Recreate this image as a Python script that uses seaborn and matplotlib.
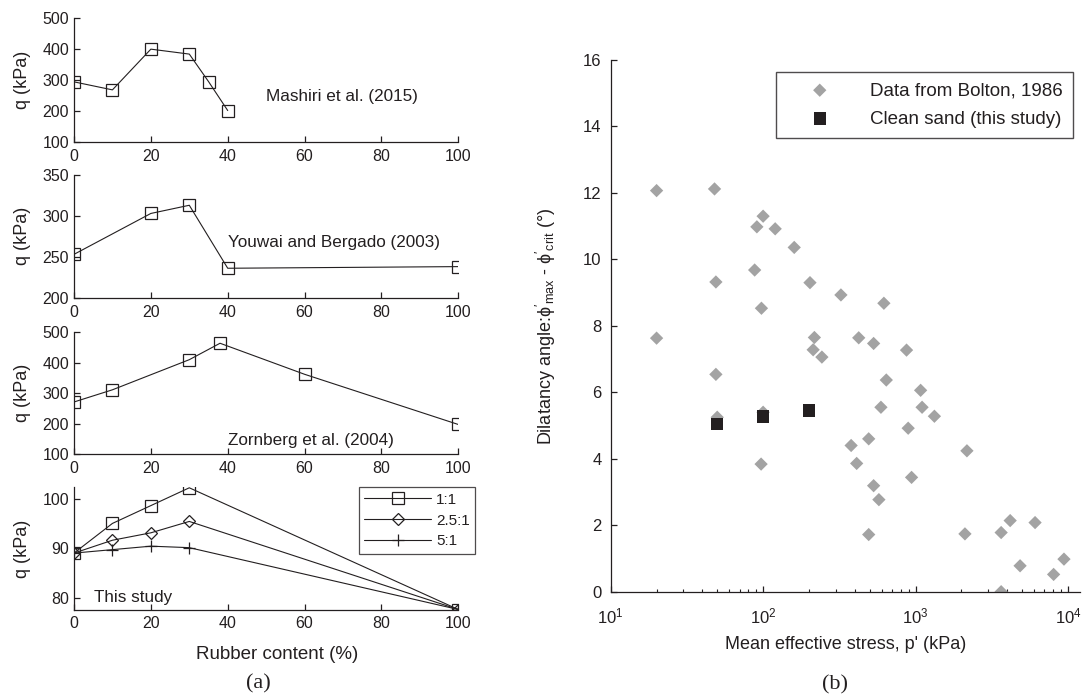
import numpy as np
import pandas as pd
import matplotlib
matplotlib.use("Agg")
import matplotlib.pyplot as plt
import seaborn as sns
from matplotlib.ticker import LogLocator, LogFormatterSciNotation, NullFormatter

# ---- (a) peak deviator stress vs rubber content ----
mashiri_x = [0, 10, 20, 30, 35, 40]
mashiri_q = [294, 268, 400, 384, 295, 201]

youwai_x = [0, 20, 30, 40, 100]
youwai_q = [253, 303, 313, 236, 238]

zornberg_x = [0, 10, 30, 38, 60, 100]
zornberg_q = [271, 311, 410, 464, 362, 197]

study_x = [0, 10, 20, 30, 100]
study_q_1_1 = [89.0, 95.0, 98.6, 102.2, 77.6]
study_q_25_1 = [89.0, 91.6, 93.1, 95.4, 77.6]
study_q_5_1 = [89.0, 89.7, 90.4, 90.1, 77.6]
study_ratios = ["1:1", "2.5:1", "5:1"]

# ---- (b) dilatancy angle vs mean effective stress ----
bolton_p = [20, 20, 48, 49, 49, 50, 100, 91, 120, 160, 88, 203, 324, 620,
            97.5, 97, 100, 217, 213, 243, 424, 531, 873, 643, 1080, 593,
            1104, 1330, 895, 493, 378, 411, 942, 531, 575, 2174, 493, 2110,
            3646, 4178, 6086, 4853, 9419, 8055, 3646]
bolton_psi = [12.07, 7.63, 12.12, 9.32, 6.54, 5.25, 11.30, 10.98, 10.92,
              10.36, 9.68, 9.30, 8.93, 8.68, 8.53, 3.84, 5.40, 7.65, 7.28,
              7.06, 7.64, 7.47, 7.27, 6.37, 6.06, 5.55, 5.55, 5.28, 4.92,
              4.60, 4.40, 3.86, 3.44, 3.19, 2.77, 4.24, 1.72, 1.74, 1.78,
              2.14, 2.08, 0.78, 0.98, 0.52, 0.0]
clean_p = [50, 100, 200]
clean_psi = [5.05, 5.27, 5.45]

sns.set_theme(style="ticks")
ink = "#231F20"
plt.rcParams.update({
    "font.family": ["Liberation Sans", "DejaVu Sans"],
    "text.color": ink,
    "axes.labelcolor": ink,
    "xtick.color": ink,
    "ytick.color": ink,
    "axes.edgecolor": ink,
    "axes.linewidth": 0.9,
    "xtick.direction": "in",
    "ytick.direction": "in",
    "xtick.major.size": 4,
    "ytick.major.size": 4,
    "xtick.minor.size": 2.5,
    "xtick.major.width": 0.9,
    "ytick.major.width": 0.9,
    "xtick.minor.width": 0.8,
    "mathtext.fontset": "custom",
    "mathtext.rm": "Liberation Sans",
    "mathtext.it": "Liberation Sans",
    "mathtext.default": "regular",
})

W, H = 1083, 695
fig = plt.figure(figsize=(W / 100, H / 100), dpi=100)


def px_axes(left, top, right, bottom):
    return fig.add_axes([left / W, 1 - bottom / H, (right - left) / W, (bottom - top) / H])


left_px, right_px = 74, 458.3
ax1 = px_axes(left_px, 18.3, right_px, 141.7)
ax2 = px_axes(left_px, 175, right_px, 297.7)
ax3 = px_axes(left_px, 332.3, right_px, 454)
ax4 = px_axes(left_px, 487.3, right_px, 609.5)
axb = px_axes(610.7, 60, 1080, 591.7)

line_kw = dict(color=ink, linewidth=0.8, markerfacecolor="none",
               markeredgecolor=ink, markeredgewidth=0.9)

tick_fs = 11.5
note_fs = 12.3

panels = [
    (ax1, mashiri_x, mashiri_q, (100, 500), [100, 200, 300, 400, 500],
     "Mashiri et al. (2015)", (50, 246)),
    (ax2, youwai_x, youwai_q, (200, 350), [200, 250, 300, 350],
     "Youwai and Bergado (2003)", (40, 268)),
    (ax3, zornberg_x, zornberg_q, (100, 500), [100, 200, 300, 400, 500],
     "Zornberg et al. (2004)", (40, 146)),
]
for ax, xs, qs, ylim, yt, note, pos in panels:
    sns.lineplot(x=xs, y=qs, ax=ax, marker="s", markersize=8, sort=False,
                 **line_kw)
    ax.set_ylim(*ylim)
    ax.set_yticks(yt)
    ax.text(pos[0], pos[1], note, fontsize=note_fs, va="center", ha="left")

# this study: three mixing ratios
study_df = pd.DataFrame({
    "rubber": study_x * 3,
    "q": study_q_1_1 + study_q_25_1 + study_q_5_1,
    "ratio": np.repeat(study_ratios, len(study_x)),
})
markers = {"1:1": "s", "2.5:1": "D", "5:1": "+"}
sizes = {"1:1": 8, "2.5:1": 6.5, "5:1": 9}
for ratio in study_ratios:
    sub = study_df[study_df["ratio"] == ratio]
    sns.lineplot(data=sub, x="rubber", y="q", ax=ax4, marker=markers[ratio],
                 markersize=sizes[ratio], sort=False, label=ratio, **line_kw)
ax4.set_ylim(77.6, 102.3)
ax4.set_yticks([80, 90, 100])
ax4.text(5.3, 80, "This study", fontsize=note_fs, va="center", ha="left")
leg = ax4.legend(loc="upper right", bbox_to_anchor=(1.0435, 1.0),
                 borderaxespad=0, frameon=True, fancybox=False,
                 fontsize=11, handlelength=4.4, handletextpad=0.3,
                 labelspacing=0.45, borderpad=0.35)
leg.get_frame().set_edgecolor(ink)
leg.get_frame().set_linewidth(0.9)

for ax in (ax1, ax2, ax3, ax4):
    ax.set_xlim(0, 100)
    ax.set_xticks([0, 20, 40, 60, 80, 100])
    ax.tick_params(axis="y", labelsize=tick_fs, pad=3.5)
    ax.tick_params(axis="x", labelsize=tick_fs, pad=5)
    sns.despine(ax=ax)
    ax.set_ylabel("q (kPa)", fontsize=13)
    ax.yaxis.set_label_coords(-0.112, 0.5)
    ax.set_xlabel("")
ax4.set_xlabel("Rubber content (%)", fontsize=13.5)
ax4.xaxis.set_label_coords(0.528, -0.30)

# (b) scatter
sns.scatterplot(x=bolton_p, y=bolton_psi, ax=axb, marker="D", s=46,
                color="#A3A3A3", edgecolor="none", linewidth=0,
                label="Data from Bolton, 1986", zorder=2)
sns.scatterplot(x=clean_p, y=clean_psi, ax=axb, marker="s", s=80,
                color=ink, edgecolor="none", linewidth=0,
                label="Clean sand (this study)", zorder=3)
axb.set_xscale("log")
axb.set_xlim(10, 1.2e4)
axb.set_ylim(0, 16)
axb.set_yticks(range(0, 17, 2))
axb.xaxis.set_major_locator(LogLocator(base=10, numticks=10))
axb.xaxis.set_major_formatter(LogFormatterSciNotation())
axb.xaxis.set_minor_locator(LogLocator(base=10, subs=np.arange(2, 10), numticks=20))
axb.xaxis.set_minor_formatter(NullFormatter())
axb.tick_params(axis="y", labelsize=12, pad=6.5)
axb.tick_params(axis="x", labelsize=12, pad=11)
sns.despine(ax=axb)
axb.set_xlabel("Mean effective stress, p' (kPa)", fontsize=13)
axb.xaxis.set_label_coords(0.5, -0.083)
axb.set_ylabel(r"Dilatancy angle:$\phi'_{max}$ - $\phi'_{crit}$ (°)", fontsize=13)
axb.yaxis.set_label_coords(-0.112, 0.5)
legb = axb.legend(loc="upper right", bbox_to_anchor=(0.986, 0.978),
                  borderaxespad=0, frameon=True, fancybox=False, fontsize=13.5,
                  handlelength=3.6, handletextpad=0.9, labelspacing=0.6,
                  borderpad=0.55, markerscale=1.0)
legb.get_frame().set_edgecolor(ink)
legb.get_frame().set_linewidth(1.0)

fig.text(258 / W, 1 - 684 / H, "(a)", fontsize=16, ha="center", va="center",
         family="Liberation Serif")
fig.text(835 / W, 1 - 685 / H, "(b)", fontsize=16, ha="center", va="center",
         family="Liberation Serif")

fig.savefig("out.png", dpi=100)
